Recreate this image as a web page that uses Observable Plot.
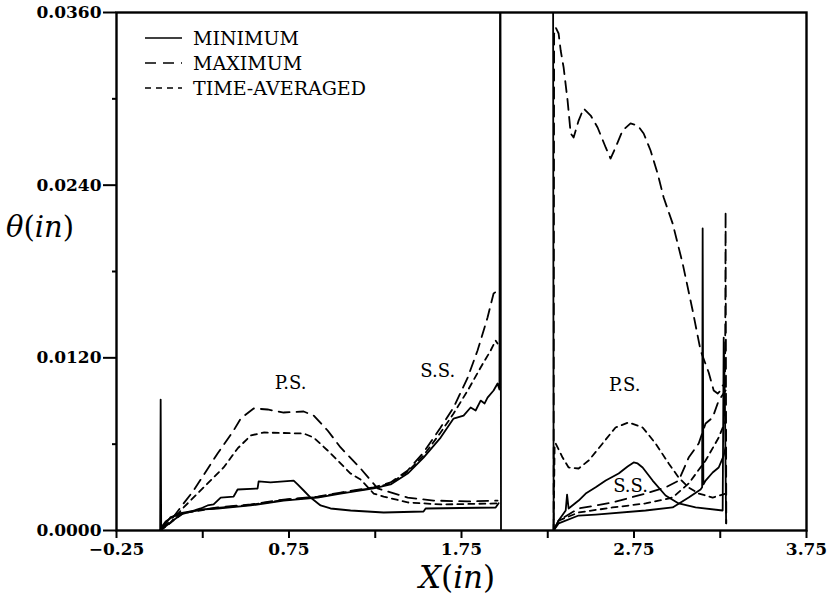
<!DOCTYPE html>
<html><head><meta charset="utf-8">
<script src="https://cdn.jsdelivr.net/npm/d3@7"></script>
<script src="https://cdn.jsdelivr.net/npm/@observablehq/plot@0.6"></script>
<style>
body{margin:0;background:#fff;}
#wrap{position:relative;width:829px;height:602px;overflow:hidden;}
.ttl{position:absolute;font-family:"DejaVu Serif",serif;color:#000;white-space:nowrap;line-height:1;}
</style>
</head><body><div id="wrap"></div>
<script>
// ---- data (X in inches, theta in inches) ----
const xMajor = [-0.25, 0.75, 1.75, 2.75, 3.75];
const xMinor = [0.25, 1.25, 2.25, 3.25];
const yMajor = [0, 0.012, 0.024, 0.036];
const yMinor = [0.006, 0.018, 0.030];

// Blade 1
const minPS1 = [[0.003,0],[0.006,0.0091],[0.009,0.0002],[0.035,0.00063],[0.104,0.00118],[0.180,0.00132],[0.238,0.00153],[0.278,0.00174],[0.313,0.00181],[0.354,0.00229],[0.429,0.00236],[0.452,0.00285],[0.568,0.00292],[0.574,0.00341],[0.643,0.00334],[0.777,0.00347],[0.800,0.00320],[0.835,0.00278],[0.875,0.00229],[0.933,0.00174],[0.991,0.00153],[1.107,0.00139],[1.299,0.00125],[1.530,0.00132],[1.542,0.00153],[1.948,0.00160],[1.965,0.00190]];
const minSS1 = [[0.003,0],[0.064,0.00093],[0.139,0.00118],[0.238,0.00146],[0.336,0.00153],[0.528,0.00174],[0.719,0.00208],[0.916,0.00229],[1.049,0.00257],[1.241,0.00292],[1.339,0.00320],[1.438,0.00396],[1.530,0.00507],[1.629,0.00646],[1.704,0.00778],[1.762,0.00799],[1.803,0.00855],[1.832,0.00834],[1.861,0.00903],[1.884,0.00883],[1.901,0.00924],[1.936,0.00973],[1.959,0.01022],[1.970,0.00980],[1.975,0.05],[1.979,0]];
const maxPS1 = [[0.003,0],[0.064,0.00069],[0.139,0.00188],[0.197,0.00278],[0.336,0.00535],[0.429,0.00695],[0.470,0.00778],[0.545,0.00848],[0.626,0.00841],[0.719,0.00820],[0.835,0.00827],[0.893,0.00799],[0.974,0.00695],[1.049,0.00577],[1.165,0.00431],[1.264,0.00292],[1.438,0.00229],[1.588,0.00208],[1.786,0.00202],[1.959,0.00208]];
const maxSS1 = [[0.003,0],[0.139,0.00125],[0.336,0.00160],[0.528,0.00181],[0.719,0.00215],[0.916,0.00236],[1.049,0.00264],[1.241,0.00300],[1.339,0.00334],[1.438,0.00417],[1.530,0.00542],[1.629,0.00716],[1.704,0.00855],[1.786,0.01063],[1.843,0.01251],[1.901,0.01480],[1.936,0.01647],[1.959,0.01668]];
const avgPS1 = [[0.003,0],[0.064,0.00056],[0.139,0.00160],[0.255,0.00299],[0.371,0.00438],[0.452,0.00570],[0.528,0.00660],[0.603,0.00681],[0.835,0.00674],[0.893,0.00646],[0.974,0.00556],[1.049,0.00466],[1.107,0.00396],[1.165,0.00354],[1.241,0.00257],[1.299,0.00236],[1.438,0.00195],[1.629,0.00181],[1.959,0.00188]];
const avgSS1 = [[0.003,0],[0.139,0.00122],[0.336,0.00157],[0.528,0.00178],[0.719,0.00212],[0.916,0.00233],[1.049,0.00261],[1.241,0.00296],[1.339,0.00327],[1.438,0.00410],[1.530,0.00521],[1.629,0.00681],[1.704,0.00813],[1.786,0.00973],[1.861,0.01133],[1.919,0.01251],[1.948,0.01320],[1.959,0.01300]];

// Blade 2
const minPS2 = [[2.280,0.05],[2.284,0],[2.313,0.00069],[2.354,0.00139],[2.362,0.00250],[2.371,0.00153],[2.429,0.00208],[2.470,0.00257],[2.528,0.00300],[2.586,0.00347],[2.661,0.00396],[2.713,0.00445],[2.748,0.00473],[2.771,0.00466],[2.800,0.00438],[2.858,0.00347],[2.933,0.00243],[3.009,0.00188],[3.107,0.00160],[3.264,0.00139],[3.270,0.01341],[3.277,0.00900],[3.284,0.00050]];
const minSS2 = [[2.284,0],[2.313,0.00049],[2.429,0.00104],[2.528,0.00111],[2.817,0.00139],[2.974,0.00160],[3.067,0.00229],[3.136,0.00285],[3.145,0.00300],[3.148,0.02099],[3.152,0.00320],[3.165,0.00347],[3.206,0.00403],[3.241,0.00438],[3.270,0.00521],[3.281,0.00577]];
const maxPS2 = [[2.284,0],[2.287,0.0345],[2.296,0.03496],[2.313,0.03454],[2.325,0.03336],[2.342,0.03218],[2.365,0.02988],[2.383,0.02759],[2.400,0.02731],[2.429,0.02849],[2.458,0.02933],[2.499,0.02884],[2.539,0.02801],[2.586,0.02662],[2.614,0.02585],[2.643,0.02662],[2.684,0.02780],[2.730,0.02829],[2.771,0.02815],[2.806,0.02759],[2.846,0.02641],[2.887,0.02481],[2.922,0.02314],[2.974,0.02134],[3.032,0.01856],[3.090,0.01529],[3.136,0.01251],[3.183,0.01098],[3.212,0.00973],[3.235,0.00952],[3.252,0.00973],[3.264,0.01008],[3.278,0.01000],[3.281,0.02217],[3.285,0.00050]];
const maxSS2 = [[2.284,0],[2.313,0.00069],[2.429,0.00153],[2.626,0.00195],[2.817,0.00257],[2.933,0.00299],[3.009,0.00347],[3.067,0.00507],[3.125,0.00605],[3.165,0.00744],[3.206,0.00785],[3.241,0.00903],[3.281,0.00973]];
const avgPS2 = [[2.284,0],[2.290,0.00600],[2.296,0.00605],[2.336,0.00507],[2.371,0.00438],[2.429,0.00431],[2.487,0.00486],[2.568,0.00605],[2.643,0.00716],[2.719,0.00751],[2.800,0.00716],[2.875,0.00605],[2.951,0.00466],[3.009,0.00368],[3.067,0.00299],[3.125,0.00257],[3.206,0.00229],[3.281,0.00257]];
const avgSS2 = [[2.284,0],[2.313,0.00069],[2.429,0.00125],[2.626,0.00160],[2.817,0.00188],[2.974,0.00229],[3.067,0.00327],[3.165,0.00486],[3.241,0.00646],[3.281,0.00764]];

// annotations
const noteText = ["P.S.", "S.S.", "P.S.", "S.S."];
const noteX = [0.759, 1.612, 2.696, 2.730];
const noteY = [0.0102, 0.0111, 0.0101, 0.0031];

// legend
const legendLabels = ["MINIMUM", "MAXIMUM", "TIME-AVERAGED"];
const legendDash = [null, "11,7", "6,5"];

// ---- build rows ----
function rows(arr, series, part) { return arr.map(([x, y]) => ({x, y, series, part})); }
const minRows = [...rows(minPS1,"min","ps1"),...rows(minSS1,"min","ss1"),...rows(minPS2,"min","ps2"),...rows(minSS2,"min","ss2")];
const maxRows = [...rows(maxPS1,"max","ps1"),...rows(maxSS1,"max","ss1"),...rows(maxPS2,"max","ps2"),...rows(maxSS2,"max","ss2")];
const avgRows = [...rows(avgPS1,"avg","ps1"),...rows(avgSS1,"avg","ss1"),...rows(avgPS2,"avg","ps2"),...rows(avgSS2,"avg","ss2")];
const notes = noteText.map((t, i) => ({t, x: noteX[i], y: noteY[i]}));

const font = "DejaVu Serif";
const fmtX = d => (d < 0 ? "\u2212" : "") + Math.abs(d).toFixed(2);

const chart = Plot.plot({
  width: 829, height: 602,
  marginLeft: 116, marginRight: 23, marginTop: 12, marginBottom: 72,
  style: {fontFamily: font, background: "#fff", color: "#000"},
  x: {domain: [-0.25, 3.75]},
  y: {domain: [0, 0.036]},
  marks: [
    Plot.line(avgRows, {x: "x", y: "y", z: "part", stroke: "#000", strokeWidth: 1.8, strokeDasharray: "6,5", clip: true}),
    Plot.line(maxRows, {x: "x", y: "y", z: "part", stroke: "#000", strokeWidth: 1.8, strokeDasharray: "11,7", clip: true}),
    Plot.line(minRows, {x: "x", y: "y", z: "part", stroke: "#000", strokeWidth: 1.8, clip: true}),
    Plot.text(notes, {x: "x", y: "y", text: "t", fontSize: 18, fontFamily: font, fill: "#000"}),
    Plot.axisY(yMajor, {tickSize: 13, tickPadding: 2, strokeWidth: 2, tickFormat: d => d.toFixed(4), fontSize: 17, fontWeight: "bold", fontFamily: font, label: null}),
    Plot.axisY(yMinor, {tickSize: 4, strokeWidth: 2, tickFormat: () => "", label: null}),
    Plot.axisX(xMajor, {tickSize: 8, tickPadding: 4, strokeWidth: 2, tickFormat: fmtX, fontSize: 17, fontWeight: "bold", fontFamily: font, label: null}),
    Plot.axisX(xMinor, {tickSize: 8, strokeWidth: 2, tickFormat: () => "", label: null}),
    Plot.frame({stroke: "#000", strokeWidth: 2.4})
  ]
});
const wrap = document.getElementById("wrap");
wrap.appendChild(chart);

// axis titles
const yt = document.createElement("div");
yt.className = "ttl"; yt.style.left = "6px"; yt.style.top = "213px"; yt.style.fontSize = "29px";
yt.innerHTML = "<i>\u03B8</i>(<i>in</i>)";
wrap.appendChild(yt);
const xt = document.createElement("div");
xt.className = "ttl"; xt.style.left = "419px"; xt.style.top = "562px"; xt.style.fontSize = "31px";
xt.innerHTML = "<i>X</i>(<i>in</i>)";
wrap.appendChild(xt);

// legend
const leg = d3.select(wrap).append("svg")
  .attr("width", 320).attr("height", 90)
  .style("position", "absolute").style("left", "140px").style("top", "22px");
legendLabels.forEach((lab, i) => {
  const cy = 16 + i * 25;
  leg.append("line").attr("x1", 5).attr("x2", 42).attr("y1", cy).attr("y2", cy)
    .attr("stroke", "#000").attr("stroke-width", 1.7)
    .attr("stroke-dasharray", legendDash[i]);
  leg.append("text").attr("x", 53).attr("y", cy).attr("dy", "0.36em")
    .attr("font-family", font).attr("font-size", 19).text(lab);
});
</script></body></html>
